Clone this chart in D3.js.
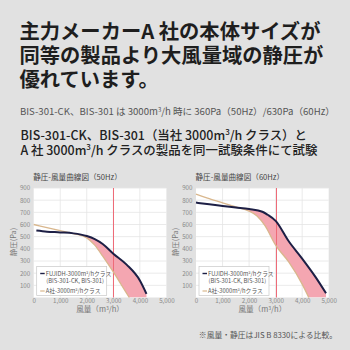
<!DOCTYPE html>
<html>
<head>
<meta charset="utf-8">
<script src="https://cdn.jsdelivr.net/npm/d3@7"></script>
<style>
  html, body { margin: 0; padding: 0; background: #e1e1e1; }
  svg { display: block; }
  text { font-family: "Noto Sans CJK JP", "Noto Sans", sans-serif; }
</style>
</head>
<body>
<svg id="chart" width="350" height="350"></svg>
<script>
// Static pressure vs. airflow (m3/h, Pa)
const fujiAirflow50 = [100, 500, 1000, 1500, 2000, 2300, 2600, 3000, 3500, 4000, 4250];
const fujiPressure50 = [550, 541, 535, 527, 505, 480, 440, 360, 270, 140, 30];
const rivalAirflow50 = [0, 500, 1000, 1500, 2000, 2300, 2600, 3000, 3300, 3600];
const rivalPressure50 = [600, 575, 550, 525, 490, 430, 340, 210, 105, 0];

const fujiAirflow60 = [0, 500, 1000, 1500, 2000, 2500, 2700, 3000, 3500, 4000, 4500, 4900];
const fujiPressure60 = [780, 766, 753, 740, 727, 705, 680, 630, 460, 320, 170, 35];
const rivalAirflow60 = [0, 500, 1000, 1500, 2000, 2300, 2600, 3000, 3500, 4000, 4250];
const rivalPressure60 = [850, 812, 778, 745, 710, 670, 590, 430, 290, 110, 0];

const xTicks = [0, 1000, 2000, 3000, 4000, 5000];
const yTicks = [100, 200, 300, 400, 500, 600, 700, 800, 900];
const markerAirflow = 3000;

const panels = [
  { title: "静圧-風量曲線図（50Hz）", left: 33.7, fujiX: fujiAirflow50, fujiY: fujiPressure50, rivalX: rivalAirflow50, rivalY: rivalPressure50 },
  { title: "静圧-風量曲線図（60Hz）", left: 196, fujiX: fujiAirflow60, fujiY: fujiPressure60, rivalX: rivalAirflow60, rivalY: rivalPressure60 }
];

const svg = d3.select("#chart");
svg.append("rect").attr("width", 350).attr("height", 350).attr("fill", "#e1e1e1");

// Headline
const headline = ["主力メーカーA 社の本体サイズが", "同等の製品より大風量域の静圧が", "優れています。"];
svg.append("g").selectAll("text").data(headline).join("text")
  .attr("x", 19.5).attr("y", (d, i) => 38.5 + i * 24.4)
  .attr("font-size", 20.3).attr("font-weight", 700).attr("fill", "#1e1e1e")
  .text(d => d);

const sub1 = svg.append("text").attr("x", 20).attr("y", 115).attr("font-size", 9.6).attr("fill", "#555");
sub1.append("tspan").text("BIS-301-CK、BIS-301 は 3000m");
sub1.append("tspan").attr("font-size", 6).attr("dy", -3.5).text("3");
sub1.append("tspan").attr("dy", 3.5).text("/h 時に 360Pa（50Hz）/630Pa（60Hz）");

function supLine(x, y, parts) {
  const t = svg.append("text").attr("x", x).attr("y", y).attr("font-size", 12.45).attr("font-weight", 500).attr("fill", "#222");
  parts.forEach(p => {
    if (p.sup) t.append("tspan").attr("font-size", 8).attr("dy", -5).text(p.s);
    else t.append("tspan").attr("dy", p.after ? 5 : 0).text(p.s);
  });
}
supLine(20.5, 139.5, [{ s: "BIS-301-CK、BIS-301（当社 3000m" }, { s: "3", sup: true }, { s: "/h クラス）と", after: true }]);
supLine(20.5, 154.5, [{ s: "A 社 3000m" }, { s: "3", sup: true }, { s: "/h クラスの製品を同一試験条件にて試験", after: true }]);

const yScale = d3.scaleLinear().domain([0, 900]).range([297.5, 188]);

panels.forEach(p => {
  const x = d3.scaleLinear().domain([0, 5000]).range([p.left, p.left + 132.7]);
  const g = svg.append("g");
  const [x0, x1] = x.range();
  const [yb, yt] = yScale.range();

  g.append("text").attr("x", p.left - 0.5).attr("y", 180).attr("font-size", 7.6).attr("fill", "#444").text(p.title);

  g.append("rect").attr("x", x0).attr("y", yt).attr("width", x1 - x0).attr("height", yb - yt).attr("fill", "#fff");

  // grid
  g.append("g").selectAll("line").data(yTicks).join("line")
    .attr("x1", x0).attr("x2", x1).attr("y1", d => yScale(d)).attr("y2", d => yScale(d))
    .attr("stroke", "#e4e4e4").attr("stroke-width", 0.8);
  g.append("g").selectAll("line").data(xTicks.slice(1, -1)).join("line")
    .attr("y1", yb).attr("y2", yt).attr("x1", d => x(d)).attr("x2", d => x(d))
    .attr("stroke", "#e4e4e4").attr("stroke-width", 0.8);

  // axes labels
  const yAxis = d3.axisLeft(yScale).tickValues(yTicks).tickSize(0).tickPadding(3.5);
  const ya = g.append("g").attr("transform", `translate(${x0},0)`).call(yAxis);
  const xAxis = d3.axisBottom(x).tickValues(xTicks).tickSize(0).tickPadding(1.2);
  const xa = g.append("g").attr("transform", `translate(0,${yb})`).call(xAxis);
  [ya, xa].forEach(a => {
    a.select(".domain").remove();
    a.selectAll("text").attr("font-size", 6.2).attr("fill", "#8a8a8a")
      .attr("font-family", "'Noto Sans CJK JP', sans-serif");
  });

  g.append("text").attr("transform", `translate(${p.left - 18},242) rotate(-90)`)
    .attr("text-anchor", "middle").attr("font-size", 7.4).attr("fill", "#777")
    .text("静圧(Pa)");

  const xt = g.append("text").attr("x", (x0 + x1) / 2).attr("y", 312.3).attr("text-anchor", "middle")
    .attr("font-size", 7.6).attr("fill", "#777");
  xt.append("tspan").text("風量（m");
  xt.append("tspan").attr("font-size", 5).attr("dy", -2.5).text("3");
  xt.append("tspan").attr("dy", 2.5).text("/h）");

  const fuji = p.fujiX.map((v, i) => [v, p.fujiY[i]]);
  const rival = p.rivalX.map((v, i) => [v, p.rivalY[i]]);

  // shaded gain: under the FUJIDH curve, clipped to above the rival curve
  const clipId = "clip" + p.left.toFixed(0);
  const clip = g.append("clipPath").attr("id", clipId);
  clip.append("path").attr("d", d3.area().x(d => x(d[0])).y0(yt).y1(d => yScale(d[1])).curve(d3.curveMonotoneX)(rival));
  clip.append("rect").attr("x", x(rival[rival.length - 1][0])).attr("y", yt).attr("width", x1).attr("height", yb - yt);
  g.append("path")
    .attr("d", d3.area().x(d => x(d[0])).y0(yb).y1(d => yScale(d[1])).curve(d3.curveMonotoneX)(fuji))
    .attr("fill", "#f4a6b1").attr("clip-path", `url(#${clipId})`);

  // 3000 m3/h reference line, snapped to the pixel grid
  const mx = Math.round(x(markerAirflow)) + 0.5;
  g.append("line").attr("x1", mx).attr("x2", mx).attr("y1", yt).attr("y2", yb)
    .attr("stroke", "#ee6b78").attr("stroke-width", 1);

  const line = d3.line().x(d => x(d[0])).y(d => yScale(d[1])).curve(d3.curveMonotoneX);
  g.append("path").attr("d", line(rival)).attr("fill", "none").attr("stroke", "#d9b78d").attr("stroke-width", 1.3);
  g.append("path").attr("d", line(fuji)).attr("fill", "none").attr("stroke", "#1d1f45").attr("stroke-width", 2);

  // legend
  const lg = g.append("g").attr("transform", `translate(${p.left + 3},266.5)`);
  lg.append("rect").attr("width", 70).attr("height", 29).attr("fill", "#fff").attr("stroke", "#c8c8c8").attr("stroke-width", 0.7);
  lg.append("line").attr("x1", 3.5).attr("x2", 8).attr("y1", 7).attr("y2", 7).attr("stroke", "#1d1f45").attr("stroke-width", 1.4);
  lg.append("line").attr("x1", 3.5).attr("x2", 8).attr("y1", 24.5).attr("y2", 24.5).attr("stroke", "#d9b78d").attr("stroke-width", 1.2);
  const t1 = lg.append("text").attr("x", 9).attr("y", 9.2).attr("font-size", 5.8).attr("fill", "#555");
  t1.append("tspan").text("FUJIDH-3000m");
  t1.append("tspan").attr("font-size", 4).attr("dy", -2).text("3");
  t1.append("tspan").attr("dy", 2).text("/hクラス");
  lg.append("text").attr("x", 9.5).attr("y", 16).attr("font-size", 5.8).attr("fill", "#555").text("(BIS-301-CK, BIS-301)");
  const t2 = lg.append("text").attr("x", 9).attr("y", 26.6).attr("font-size", 5.8).attr("fill", "#555");
  t2.append("tspan").text("A社-3000m");
  t2.append("tspan").attr("font-size", 4).attr("dy", -2).text("3");
  t2.append("tspan").attr("dy", 2).text("/hクラス");
});

svg.append("text").attr("x", 337).attr("y", 338).attr("text-anchor", "end")
  .attr("font-size", 7.8).attr("fill", "#555").text("※風量・静圧はJIS B 8330による比較。");
</script>
</body>
</html>
